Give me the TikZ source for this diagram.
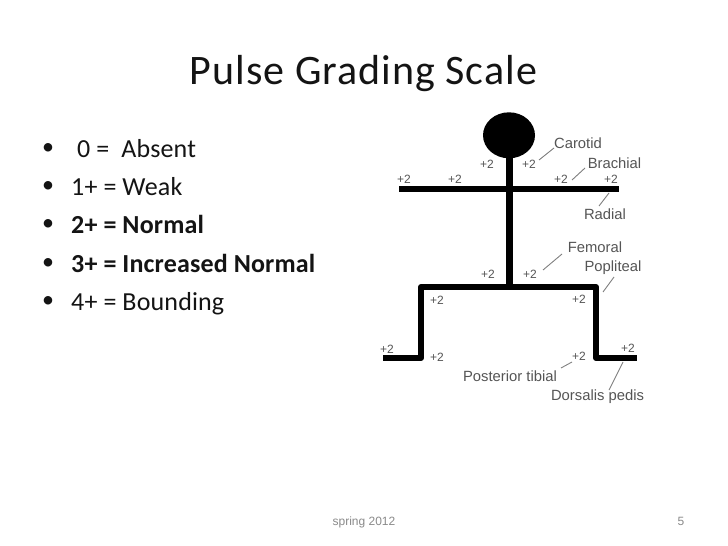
\documentclass[tikz,border=0pt]{standalone}
\usepackage{fontspec}
\setmainfont{Carlito}
\newfontfamily\titlefont[LetterSpace=2.4]{Carlito}
\newfontfamily\bodyfont[LetterSpace=0.6]{Carlito}
\newfontfamily\labelfont{Liberation Sans}
\definecolor{titlec}{HTML}{141414}
\definecolor{figtext}{HTML}{555555}
\definecolor{leader}{HTML}{808080}
\definecolor{foot}{HTML}{8A8A8A}
\tikzset{
  titletext/.style={anchor=base,font=\titlefont\fontsize{42}{42}\selectfont,text=titlec,inner sep=0pt},
  bullettext/.style={anchor=base west,font=\bodyfont\fontsize{26}{26}\selectfont,text=titlec,inner sep=0pt},
  boldtext/.style={bullettext,font=\bodyfont\fontsize{26}{26}\selectfont\bfseries},
  bulletmark/.style={anchor=base,font=\bodyfont\fontsize{24}{24}\selectfont,text=titlec,inner sep=0pt},
  figlabel/.style={font=\labelfont\fontsize{14.8}{15}\selectfont,text=figtext,inner sep=0pt},
  gradelabel/.style={font=\labelfont\fontsize{12}{12}\selectfont,text=figtext,inner sep=0pt},
  limb/.style={line width=6.2pt,black,line join=round},
  leaderline/.style={line width=0.9pt,leader},
  footer/.style={anchor=base,font=\labelfont\fontsize{12}{12}\selectfont,text=foot,inner sep=0pt}
}
\begin{document}
\begin{tikzpicture}[x=1pt,y=-1pt]
\useasboundingbox (0,0) rectangle (728,546);
\fill[white] (0,0) rectangle (728,546);
\node[titletext] (title) at (363.5,84) {Pulse Grading Scale};
% bullets
\foreach \n/\y in {a/154,b/192,c/230,d/269,e/307}{
  \node[bulletmark] (bul\n) at (48,\y) {•};
}
\node[bullettext] (t1) at (77,157) {0 =\ \ Absent};
\node[bullettext] (t2) at (71,195) {1+ = Weak};
\node[boldtext] (t3) at (71,233) {2+ = Normal};
\node[boldtext] (t4) at (71,272) {3+ = Increased Normal};
\node[bullettext] (t5) at (71,310) {4+ = Bounding};
% figure
\fill[black] (509,135.3) ellipse (26 and 23);
\coordinate (neck) at (509.5,150);
\coordinate (hip) at (509.5,287);
\coordinate (handL) at (399,189);
\coordinate (handR) at (619,189);
\draw[limb,line width=7pt] (neck) -- (hip);
\draw[limb] (handL) -- (handR);
\draw[limb] (383,358) -- (421,358) -- (421,287) -- (596,287) -- (596,358) -- (637,358);
% grades
\foreach \x/\y in {487/164,529/164,404/179,455/179,561/179,611/179,
  488/274,530/274,437/300,579/299,387/349,437/357,579/356,628/348}{
  \node[gradelabel] at (\x,\y) {+2};
}
% labels
\node[figlabel] (car) at (578,143) {Carotid};
\node[figlabel] (bra) at (614.5,163) {Brachial};
\node[figlabel] (rad) at (605,214) {Radial};
\node[figlabel] (fem) at (595,247) {Femoral};
\node[figlabel] (pop) at (613,268) {Popliteal};
\node[figlabel] (pos) at (510,376) {Posterior tibial};
\node[figlabel] (dor) at (597.5,397) {Dorsalis pedis};
\draw[leaderline] (554,148) -- (539,160);
\draw[leaderline] (585,168) -- (572,180);
\draw[leaderline] (609,193) -- (599,206);
\draw[leaderline] (562,254) -- (543,270);
\draw[leaderline] (614,277) -- (603,292);
\draw[leaderline] (572,362) -- (561,368);
\draw[leaderline] (623,362) -- (609,390);
% footer
\node[footer] (spring) at (364,525) {spring 2012};
\node[footer] (num) at (681,525) {5};
\end{tikzpicture}
\end{document}
